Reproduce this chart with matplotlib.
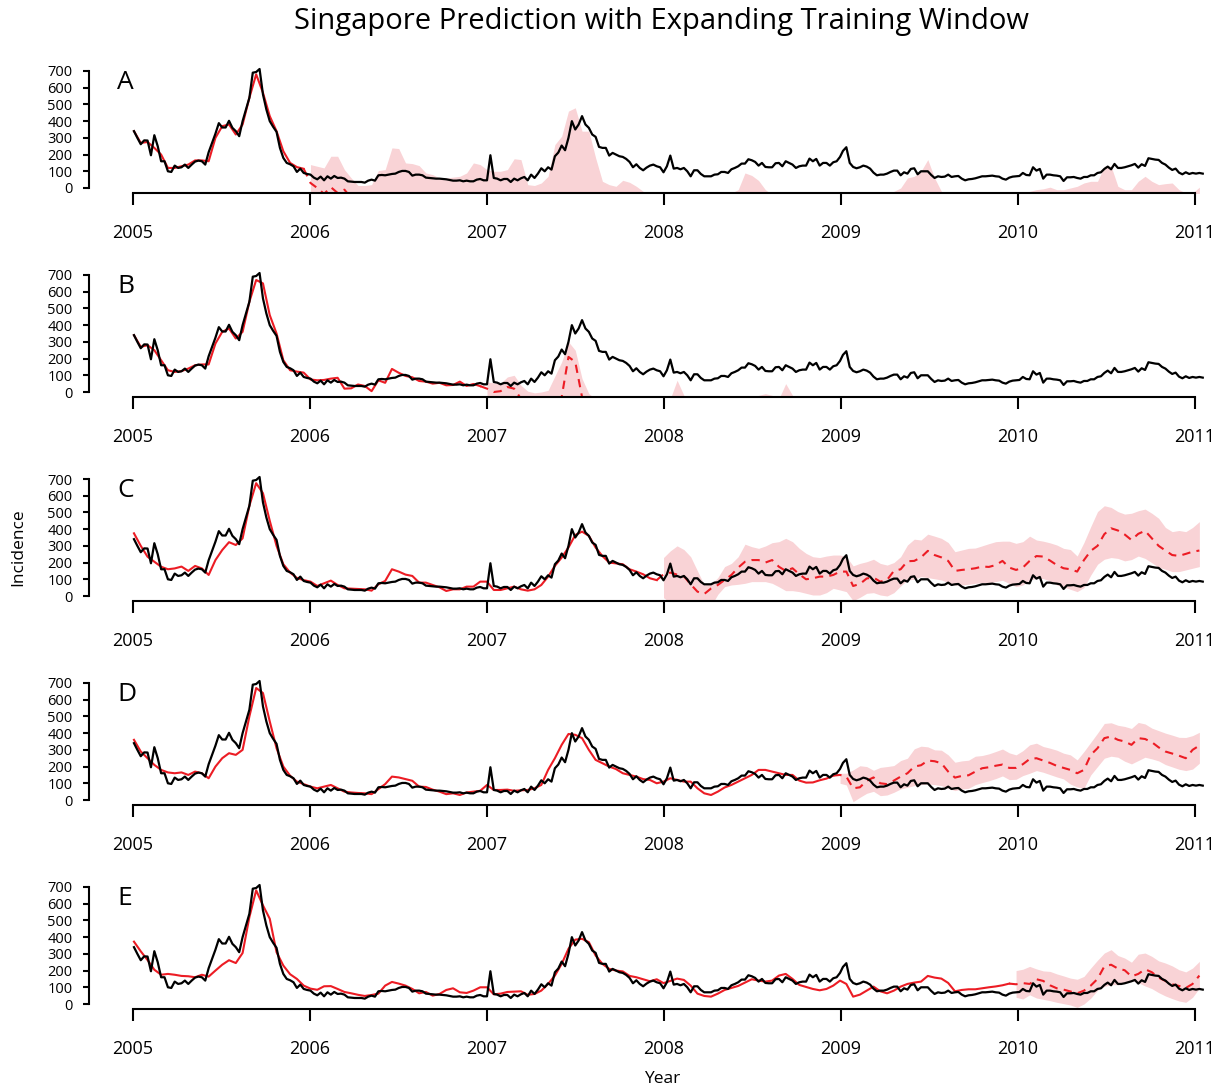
import numpy as np
import pandas as pd
import matplotlib
matplotlib.use('Agg')
import matplotlib.pyplot as plt

plt.rcParams['font.family'] = ['Open Sans', 'DejaVu Sans']

# weekly observed incidence, first week of 2005 onwards
observed = [
    340, 300, 262, 285, 284, 196, 316, 250, 160, 160, 100, 96, 134, 120, 124, 140, 120, 140, 158, 164,
    160, 140, 214, 270, 325, 388, 362, 362, 402, 360, 340, 310, 400, 470, 540, 690, 694, 712, 560, 470,
    400, 366, 336, 240, 180, 150, 142, 130, 96, 116, 90, 84,
    80, 62, 52, 68, 46, 70, 56, 72, 60, 62, 56, 40, 38, 36, 36, 36, 32, 44, 50, 44,
    76, 78, 76, 80, 84, 86, 96, 102, 102, 96, 74, 80, 80, 76, 62, 60, 58, 56, 56, 54,
    52, 48, 44, 44, 46, 40, 44, 40, 40, 50, 54, 46,
    46, 196, 60, 56, 46, 54, 54, 36, 56, 46, 58, 66, 46, 80, 60, 86, 118, 100, 124, 110,
    190, 212, 254, 226, 300, 400, 350, 380, 430, 380, 360, 320, 306, 246, 240, 240, 194, 210, 200, 190,
    186, 174, 156, 124, 142, 120, 106, 122, 134, 140, 130, 124,
    94, 130, 194, 116, 120, 112, 120, 100, 70, 106, 106, 84, 70, 70, 70, 80, 82, 96, 96, 90,
    112, 120, 130, 146, 146, 172, 166, 156, 134, 150, 126, 124, 124, 148, 150, 130, 160, 150, 140, 120,
    130, 134, 134, 176, 160, 174, 134, 150, 150, 134, 154, 160,
    186, 222, 244, 150, 126, 118, 124, 134, 128, 116, 92, 76, 80, 80, 86, 96, 104, 104, 76, 94,
    86, 114, 118, 82, 100, 100, 100, 78, 60, 70, 66, 68, 80, 66, 70, 72, 56, 46, 52, 54,
    58, 64, 70, 70, 72, 74, 70, 68, 56, 50, 62, 68,
    70, 72, 90, 78, 76, 124, 104, 114, 56, 80, 80, 76, 74, 70, 42, 64, 64, 66, 60, 56,
    66, 66, 76, 76, 90, 94, 114, 128, 112, 144, 120, 120, 124, 130, 136, 144, 122, 142, 132, 178,
    174, 170, 168, 150, 140, 122, 108, 116, 92, 82, 94, 84,
    90, 86, 90, 86,
]

# model output, read every second week: in-sample fit, then forecast mean / lower / upper
fit_a = [340, 270, 275, 240, 200, 120, 120, 130, 140, 165, 165, 160, 300, 370, 380, 320, 380, 540, 680, 570,
         430, 340, 220, 150, 125, 115]
mean_a = [30, 0, -35, 5, -30, -10, -60, -100, -130, -140, -110, -100, -60, -70, -120, -130, -140, -160, -170, -180,
          -180, -175, -170, -160, -120, -130,
          -150, -160, -160, -150, -100, -100, -250, -260, -240, -200, -60, -50, -50, -50, -60, -60, -120, -260, -280, -290,
          -250, -260, -280, -310, -350, -370,
          -380, -390, -370, -380, -400, -390, -380, -360, -350, -330, -320, -300, -200, -210, -240, -300, -330, -350, -360, -370,
          -380, -370, -360, -350, -340, -350,
          -360, -370, -380, -370, -360, -350, -340, -330, -310, -290, -230, -220, -190, -120, -230, -310, -350, -370, -380, -390,
          -390, -380, -370, -360, -350, -340,
          -330, -320, -310, -300, -295, -285, -300, -300, -290, -280, -260, -250, -250, -160, -160, -280, -300, -300, -250, -220,
          -250, -270, -264, -260, -300, -320, -320, -285]
lo_a = [-80, -130, -180, -160, -200, -190, -250, -300, -330, -350, -330, -320, -290, -300, -350, -370, -380, -400, -410, -420,
        -420, -415, -410, -400, -370, -380,
        -400, -410, -410, -400, -370, -370, -500, -510, -490, -460, -350, -380, -550, -560, -520, -520, -430, -480, -500, -520,
        -500, -510, -530, -560, -600, -620,
        -630, -640, -620, -630, -650, -640, -630, -610, -600, -580, -570, -550, -480, -480, -510, -560, -580, -600, -610, -620,
        -630, -620, -610, -600, -590, -600,
        -610, -620, -630, -620, -610, -600, -590, -580, -560, -540, -500, -490, -470, -410, -500, -560, -600, -620, -630, -640,
        -640, -630, -620, -610, -600, -590,
        -580, -570, -560, -550, -545, -535, -550, -550, -540, -530, -510, -500, -500, -420, -420, -530, -550, -550, -500, -470,
        -500, -520, -514, -510, -550, -570, -570, -535]
hi_a = [140, 130, 120, 190, 190, 110, 60, 15, 15, 20, 104, 110, 240, 236, 150, 146, 134, 90, 80, 60,
        60, 65, 70, 90, 150, 140,
        110, 100, 100, 110, 175, 170, 20, 15, 30, 70, 260, 310, 460, 480, 340, 340, 180, 40, 20, 10,
        46, 34, 10, -20, -60, -80,
        -90, -100, -80, -90, -110, -100, -90, -70, -60, -40, -30, -10, 90, 75, 45, -10, -40, -60, -70, -80,
        -90, -80, -70, -60, -50, -60,
        -70, -80, -90, -80, -70, -60, -50, -40, -20, 0, 60, 70, 100, 170, 60, -20, -60, -80, -90, -100,
        -100, -90, -80, -70, -60, -50,
        -40, -30, -20, -10, -5, 5, -10, -10, 0, 10, 30, 40, 40, 130, 130, 10, -10, -10, 40, 70,
        40, 20, 26, 30, -10, -30, -30, 5]

fit_b = [340, 270, 280, 250, 190, 130, 120, 125, 140, 160, 165, 165, 290, 360, 380, 320, 360, 540, 670, 650,
         460, 350, 190, 130, 122, 116,
         75, 70, 72, 80, 85, 20, 22, 45, 36, 5, 70, 55, 138, 115, 96, 88, 66, 62, 50, 55,
         40, 42, 62, 36, 48, 35]
mean_b = [20, 0, 5, 30, 20, -40, -60, -80, -90, -80, -60, -30, 210, 180, -30, -150, -200, -220, -240, -250,
          -260, -260, -270, -270, -260, -260,
          -250, -230, -120, -200, -240, -260, -270, -270, -270, -260, -250, -240, -240, -220, -200, -190, -200, -220, -130, -200,
          -230, -240, -250, -250, -240, -240,
          -250, -260, -270, -260, -250, -250, -240, -240, -230, -230, -230, -220, -220, -220, -230, -240, -240, -240, -250, -250,
          -250, -250, -240, -240, -240, -240,
          -240, -230, -230, -230, -220, -220, -230, -230, -230, -230, -230, -220, -220, -210, -210, -220, -220, -220, -210, -210,
          -210, -210, -220, -220, -230, -230, -230, -220]
lo_b = [-30, -60, -50, -20, -40, -110, -130, -160, -170, -160, -160, -200, -40, -60, -200, -300, -360, -390, -420, -430,
        -440, -440, -450, -450, -440, -440,
        -430, -420, -310, -390, -420, -440, -450, -450, -450, -440, -430, -420, -420, -400, -380, -370, -380, -400, -310, -380,
        -410, -420, -430, -430, -420, -420,
        -430, -440, -450, -440, -430, -430, -420, -420, -410, -410, -410, -400, -400, -400, -410, -420, -420, -420, -430, -430,
        -430, -430, -420, -420, -420, -420,
        -420, -410, -410, -410, -400, -400, -410, -410, -410, -410, -410, -400, -400, -390, -390, -400, -400, -400, -390, -390,
        -390, -390, -400, -400, -410, -410, -410, -400]
hi_b = [60, 55, 52, 90, 100, 40, 5, -5, 0, 10, 95, 180, 300, 250, 80, -10, -40, -50, -60, -70,
        -80, -80, -90, -90, -80, -80,
        -70, -40, 70, -20, -60, -80, -90, -90, -90, -80, -70, -60, -60, -40, -20, -10, -20, -40, 50, -20,
        -50, -60, -70, -70, -60, -60,
        -80, -90, -100, -90, -80, -80, -70, -70, -60, -60, -60, -50, -50, -50, -60, -70, -70, -70, -80, -80,
        -80, -80, -70, -70, -70, -70,
        -70, -60, -60, -60, -50, -50, -60, -60, -60, -60, -60, -50, -50, -40, -40, -50, -50, -50, -40, -40,
        -40, -40, -50, -50, -60, -60, -60, -50]

fit_c = [375, 300, 235, 205, 175, 160, 165, 176, 150, 180, 165, 126, 215, 275, 322, 305, 345, 540, 675, 615,
         450, 300, 190, 140, 108, 95,
         86, 60, 76, 92, 66, 46, 44, 42, 40, 32, 70, 90, 160, 146, 128, 120, 80, 80, 66, 52,
         30, 40, 40, 56, 56, 86,
         86, 36, 36, 46, 56, 40, 32, 40, 66, 116, 180, 230, 290, 365, 385, 360, 290, 239, 200, 195,
         190, 160, 146, 130, 106, 95]
mean_c = [130, 140, 128, 118, 70, 26, 12, 45, 66, 96, 126, 170, 205, 215, 215, 200, 215, 175, 150, 166,
          130, 100, 106, 116, 116, 126, 146, 146,
          60, 72, 105, 110, 86, 96, 150, 160, 208, 210, 231, 270, 245, 231, 210, 150, 156, 160, 166, 176,
          174, 185, 210, 170, 156, 170, 210, 239, 236, 212, 185, 166, 160, 146, 215, 270, 300, 370, 405, 392,
          368, 335, 372, 390, 345, 300, 272, 245, 240, 252, 265, 272]
lo_c = [-10, -40, -50, -50, -60, -60, -60, -60, 10, 56, 66, 70, 76, 86, 86, 86, 76, 55, 32, 32,
        26, 16, 6, 6, 20, 46, 36, 26,
        -28, -8, 16, 20, 6, 0, 20, 60, 96, 100, 116, 110, 103, 96, 80, 66, 66, 70, 76, 80,
        78, 86, 94, 75, 56, 66, 95, 106, 104, 90, 66, 55, 40, 26, 50, 125, 190, 220, 230, 225,
        210, 218, 239, 225, 199, 172, 160, 146, 146, 156, 166, 176]
hi_c = [230, 270, 300, 278, 235, 150, 66, 70, 110, 176, 195, 235, 310, 295, 285, 299, 319, 325, 345, 325,
        285, 255, 235, 230, 239, 245, 245, 235,
        180, 195, 205, 220, 195, 185, 200, 235, 305, 340, 335, 370, 358, 345, 320, 265, 275, 285, 287, 300,
        313, 325, 328, 328, 315, 325, 358, 335, 328, 318, 305, 285, 278, 239, 320, 415, 505, 540, 530, 505,
        490, 495, 510, 520, 495, 465, 410, 385, 392, 385, 410, 445]

fit_d = [360, 290, 250, 210, 180, 165, 160, 165, 150, 170, 160, 130, 200, 250, 280, 270, 300, 500, 670, 640,
         470, 310, 200, 145, 110, 95,
         80, 70, 80, 90, 70, 50, 45, 42, 40, 35, 65, 95, 140, 135, 125, 115, 80, 78, 62, 50,
         35, 40, 30, 45, 50, 55,
         90, 60, 60, 62, 55, 58, 60, 70, 90, 180, 250, 330, 395, 390, 370, 300, 240, 220, 200, 185,
         160, 150, 140, 125, 120, 100,
         110, 130, 120, 110, 110, 70, 40, 30, 50, 75, 90, 110, 130, 150, 180, 180, 170, 160, 150, 150,
         116, 104, 105, 118, 128, 146]
mean_d = [150, 140, 70, 76, 115, 135, 100, 95, 116, 140, 160, 200, 208, 236, 232, 220, 170, 134, 144, 148,
          170, 190, 196, 205, 212, 192, 192, 214, 245, 250, 236, 222, 204, 192, 180, 160, 180, 270, 310, 370,
          380, 360, 350, 330, 370, 365, 346, 315, 290, 278, 265, 250, 300, 326]
lo_d = [100, 90, -10, 16, 40, 52, 26, 30, 46, 66, 76, 86, 92, 96, 92, 86, 70, 56, 66, 70,
        92, 104, 115, 128, 144, 122, 124, 146, 160, 176, 166, 152, 138, 126, 95, 78, 70, 150, 200, 250,
        262, 256, 232, 216, 236, 256, 246, 234, 212, 198, 184, 176, 185, 220]
hi_d = [160, 160, 180, 205, 200, 178, 195, 200, 206, 236, 250, 306, 322, 318, 300, 298, 270, 226, 234, 238,
        262, 266, 276, 290, 305, 282, 270, 295, 330, 340, 320, 310, 298, 280, 270, 240, 290, 345, 400, 458,
        462, 447, 440, 428, 464, 455, 430, 415, 400, 388, 375, 374, 385, 405]

fit_e = [373, 315, 263, 205, 175, 180, 175, 168, 166, 160, 175, 164, 200, 235, 262, 245, 305, 520, 680, 590,
         510, 310, 230, 178, 150, 110,
         92, 85, 106, 107, 90, 72, 64, 55, 48, 54, 62, 110, 132, 122, 110, 90, 64, 72, 50, 60,
         84, 94, 70, 66, 80, 100,
         100, 58, 62, 72, 74, 76, 55, 60, 80, 120, 170, 240, 330, 385, 390, 370, 290, 240, 210, 200,
         195, 168, 160, 148, 136, 148,
         125, 138, 152, 144, 110, 62, 48, 44, 62, 84, 96, 108, 128, 148, 140, 134, 140, 170, 180, 150,
         114, 102, 90, 82, 90, 110,
         140, 120, 44, 56, 80, 104, 76, 64, 80, 104, 120, 128, 134, 168, 158, 152, 126, 76, 84, 88,
         88, 94, 100, 105, 112, 122]
mean_e = [118, 125, 120, 148, 138, 112, 94, 86, 75, 64, 80, 110, 150, 225, 235, 212, 202, 165, 180, 208,
          190, 158, 138, 118, 108, 96, 120, 170]
lo_e = [40, 30, 55, 36, 28, 20, 10, 2, -6, -20, 0, 35, 82, 105, 116, 115, 128, 140, 128, 108,
        92, 68, 48, 32, 18, 10, 40, 95]
hi_e = [200, 208, 225, 210, 198, 195, 180, 168, 155, 148, 165, 215, 262, 305, 325, 290, 275, 250, 298, 305,
        285, 258, 245, 228, 205, 192, 215, 255]

panel_letters = ['A', 'B', 'C', 'D', 'E']
year_ticks = [2005, 2006, 2007, 2008, 2009, 2010, 2011]
y_ticks = [0, 100, 200, 300, 400, 500, 600, 700]

weeks = pd.date_range('2005-01-03', periods=len(observed), freq='7D')
t_obs = np.asarray(weeks.year + (weeks.dayofyear - 1) / 365.0, dtype=float)
t_red = t_obs[::2]

panels = [
    (fit_a, mean_a, lo_a, hi_a),
    (fit_b, mean_b, lo_b, hi_b),
    (fit_c, mean_c, lo_c, hi_c),
    (fit_d, mean_d, lo_d, hi_d),
    (fit_e, mean_e, lo_e, hi_e),
]

W, H = 1220, 1091
fig = plt.figure(figsize=(W / 100, H / 100), dpi=100)

px_per_unit = 117 / 700
red = '#EC1C24'
pink = '#F9D3D6'

for k, (letter, (fit, mean, lo, hi)) in enumerate(zip(panel_letters, panels)):
    zero = 188 + 204 * k
    bottom = zero + 30 * px_per_unit
    top = zero - 730 * px_per_unit
    ax = fig.add_axes([89 / W, 1 - bottom / H, (1205 - 89) / W, (bottom - top) / H])

    n = len(fit)
    tp = t_red[n:]
    ax.fill_between(tp, lo, hi, color=pink, lw=0, zorder=1)
    ax.plot(t_red[:n], fit, color=red, lw=1.5, zorder=2)
    ax.plot(t_red[n - 1:], [fit[-1]] + mean, color=red, lw=1.5, dashes=(4, 3), zorder=2)
    ax.plot(t_obs, observed, color='black', lw=1.6, zorder=3)

    ax.set_xlim(2005 - 44 / 177, 2011 + 10 / 177)
    ax.set_ylim(-30, 730)
    for s in ['top', 'right']:
        ax.spines[s].set_visible(False)
    ax.spines['left'].set_bounds(0, 700)
    ax.spines['bottom'].set_bounds(2005, 2011)
    for s in ['left', 'bottom']:
        ax.spines[s].set_linewidth(1.5)
    ax.set_xticks(year_ticks)
    ax.set_xticklabels([str(y) for y in year_ticks], fontsize=13)
    ax.set_yticks(y_ticks)
    ax.set_yticklabels([str(v) for v in y_ticks], fontsize=10.5)
    ax.tick_params(axis='x', direction='out', length=8.6, width=1.5, pad=14)
    ax.tick_params(axis='y', direction='out', length=4.3, width=1.5, pad=7.5)
    ax.patch.set_alpha(0)
    ax.text(2004.91, 631, letter, fontsize=19, ha='left', va='center')

fig.text(662 / W, 1 - 22 / H, 'Singapore Prediction with Expanding Training Window',
         fontsize=21, ha='center', va='center')
fig.text(662 / W, 1 - 1079 / H, 'Year', fontsize=12.5, ha='center', va='center')
fig.text(18 / W, 1 - 547 / H, 'Incidence', fontsize=12.5, ha='center', va='center', rotation=90)

fig.savefig('out.png', dpi=100)
